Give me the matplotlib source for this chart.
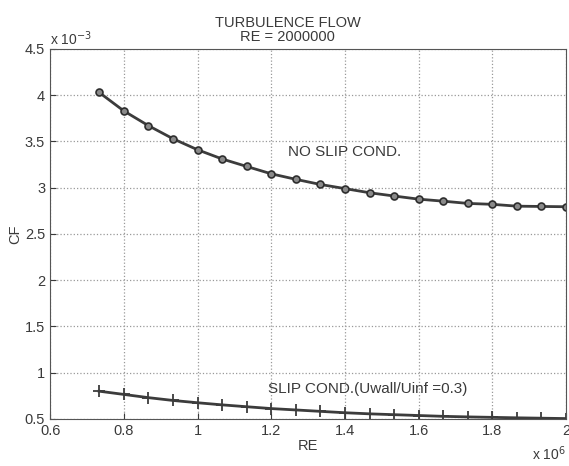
import matplotlib
matplotlib.use("Agg")
import matplotlib.pyplot as plt

# ----------------------------------------------------
# Data (RE in units of 1e6, CF in units of 1e-3)
# ----------------------------------------------------
re = [0.733, 0.800, 0.867, 0.933, 1.000, 1.067, 1.133, 1.200, 1.267, 1.333,
      1.400, 1.467, 1.533, 1.600, 1.667, 1.733, 1.800, 1.867, 1.933, 2.000]
cf_no_slip = [4.03, 3.83, 3.67, 3.53, 3.41, 3.31, 3.23, 3.15, 3.09, 3.035,
              2.99, 2.945, 2.91, 2.876, 2.854, 2.83, 2.82, 2.80, 2.797, 2.794]
cf_slip = [0.80, 0.765, 0.73, 0.70, 0.675, 0.652, 0.632, 0.612, 0.597, 0.582,
           0.567, 0.555, 0.546, 0.537, 0.528, 0.522, 0.517, 0.512, 0.508, 0.504]

x_ticks = [0.6, 0.8, 1.0, 1.2, 1.4, 1.6, 1.8, 2.0]
x_labels = ["0.6", "0.8", "1", "1.2", "1.4", "1.6", "1.8", "2"]
y_ticks = [0.5, 1.0, 1.5, 2.0, 2.5, 3.0, 3.5, 4.0, 4.5]
y_labels = ["0.5", "1", "1.5", "2", "2.5", "3", "3.5", "4", "4.5"]

plt.rcParams["font.family"] = ["Liberation Sans", "DejaVu Sans"]
txt = "#3a3a3a"

fig = plt.figure(figsize=(5.69, 4.66), dpi=100)
ax = fig.add_axes([0.088, 0.101, 0.907, 0.794])

ax.plot(re, cf_no_slip, color="#3c3c3c", lw=2.0, marker="o", ms=5,
        mfc="#8a8a8a", mec="#2e2e2e", mew=1.2)
ax.plot(re, cf_slip, color="#3c3c3c", lw=2.0, marker="+", ms=8, mew=1.3)

ax.set_xlim(0.6, 2.0)
ax.set_ylim(0.5, 4.5)
ax.set_xticks(x_ticks)
ax.set_xticklabels(x_labels)
ax.set_yticks(y_ticks)
ax.set_yticklabels(y_labels)
ax.tick_params(direction="in", labelsize=10.5, colors=txt, length=4)
ax.grid(True, linestyle=":", color="#999999", lw=0.9)
for s in ax.spines.values():
    s.set_color("#555555")

ax.set_xlabel("RE", fontsize=10.5, color=txt, labelpad=1)
ax.set_ylabel("CF", fontsize=10.5, color=txt, labelpad=2)
ax.set_title("TURBULENCE FLOW\nRE = 2000000", fontsize=10.5, color=txt,
             x=0.46, pad=6, linespacing=1.0)

# MATLAB-like exponent labels
ax.text(0.0, 1.003, r"x 10$^{-3}$", transform=ax.transAxes, fontsize=10,
        color=txt, ha="left", va="bottom")
ax.text(1.0, -0.068, r"x 10$^{6}$", transform=ax.transAxes, fontsize=10,
        color=txt, ha="right", va="top")

ax.text(1.245, 3.34, "NO SLIP COND.", fontsize=11, color=txt)
ax.text(1.19, 0.78, "SLIP COND.(Uwall/Uinf =0.3)", fontsize=11, color=txt)

fig.savefig("out.png", dpi=100)
